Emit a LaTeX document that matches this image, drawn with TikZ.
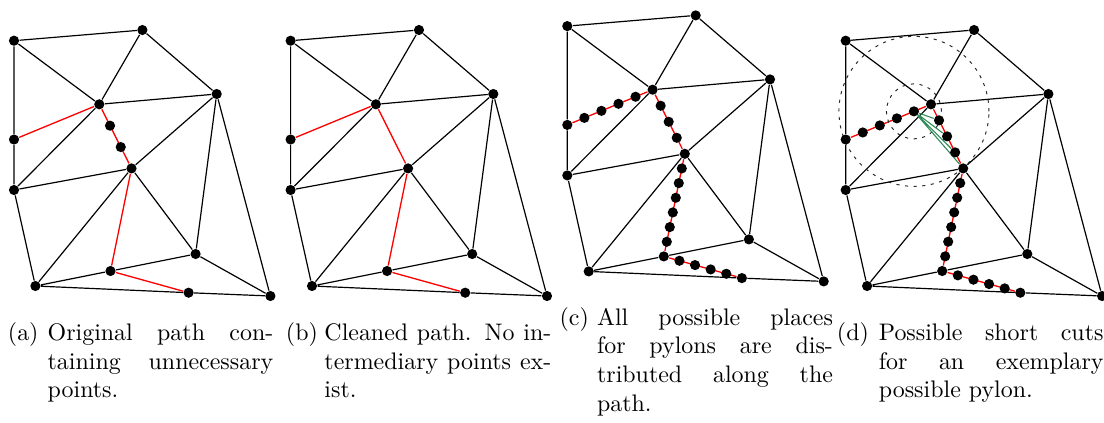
\documentclass[tikz,border=0pt]{standalone}
\usetikzlibrary{calc,backgrounds}
\definecolor{cutgreen}{RGB}{46,139,87}
\begin{document}
\begin{tikzpicture}[x=0.418pt,y=-0.418pt,
  vtx/.style={circle,fill=black,inner sep=0pt,minimum size=4.25pt},
  edge/.style={line width=0.5pt,black},
  redge/.style={line width=0.55pt,red},
  gedge/.style={line width=0.45pt,cutgreen},
  ring/.style={line width=0.4pt,dash pattern=on 1.3pt off 2.3pt,black!85},
  captag/.style={inner sep=0pt,anchor=base west,font=\fontsize{10}{12}\selectfont},
  captext/.style={captag,align=justify}]
\useasboundingbox (0,0) rectangle (1104,422);
\foreach \p/\dx/\dy in {a/0/0,b/276.6/0,c/553.3/-14.6,d/831.7/0}{
  \begin{scope}[shift={(\dx,\dy)}]
    \node[vtx] (\p A) at (14,40.7) {};
    \node[vtx] (\p B) at (142.4,30) {};
    \node[vtx] (\p C) at (216.7,94) {};
    \node[vtx] (\p D) at (99.3,104.3) {};
    \node[vtx] (\p E) at (14,139.5) {};
    \node[vtx] (\p F) at (131.5,168.4) {};
    \node[vtx] (\p G) at (14,190) {};
    \node[vtx] (\p H) at (195.6,254) {};
    \node[vtx] (\p I) at (110.5,271) {};
    \node[vtx] (\p J) at (35.4,286) {};
    \node[vtx] (\p K) at (188.6,292.7) {};
    \node[vtx] (\p L) at (270.4,296) {};
  \end{scope}
  \begin{scope}[on background layer]
    \draw[edge] (\p A)--(\p B) (\p A)--(\p D) (\p A)--(\p E) (\p B)--(\p D)
      (\p B)--(\p C) (\p D)--(\p C) (\p D)--(\p G) (\p C)--(\p F)
      (\p C)--(\p H) (\p C)--(\p L) (\p E)--(\p G) (\p G)--(\p F)
      (\p G)--(\p J) (\p F)--(\p J) (\p F)--(\p H) (\p H)--(\p I)
      (\p H)--(\p L) (\p I)--(\p J) (\p J)--(\p K) (\p K)--(\p L);
    \draw[redge] (\p D)--(\p E) (\p D)--(\p F) (\p F)--(\p I) (\p I)--(\p K);
  \end{scope}
}
% (a) unnecessary intermediate points
\node[vtx] (aq1) at ($(aD)!1/3!(aF)$) {};
\node[vtx] (aq2) at ($(aD)!2/3!(aF)$) {};
% (c), (d) possible pylon places
\foreach \p in {c,d}{
  \foreach \i in {1,...,4} \node[vtx] (\p ed\i) at ($(\p E)!\i/5!(\p D)$) {};
  \foreach \i in {1,...,3} \node[vtx] (\p df\i) at ($(\p D)!\i/4!(\p F)$) {};
  \foreach \i in {1,...,6} \node[vtx] (\p fi\i) at ($(\p F)!\i/7!(\p I)$) {};
  \foreach \i in {1,...,4} \node[vtx] (\p ik\i) at ($(\p I)!\i/5!(\p K)$) {};
}
% (d) short cuts
\begin{scope}[on background layer]
  \draw[ring] (ded4) circle[radius=31.35pt];
  \draw[ring] (ded4) circle[radius=11.5pt];
  \draw[gedge] (ded4)--(ddf1) (ded4)--(ddf2) (ded4)--(ddf3) (ded4)--(dF);
\end{scope}
% captions
\node[captag] (la) at (7.5,340.3) {(a)};
\node[captext,text width=94.3pt] (ta) at (47.2,340.3)
  {\hyphenpenalty=10000 Original path con-\linebreak taining unnecessary\linebreak points.};
\node[captag] (lb) at (285.5,340.3) {(b)};
\node[captext,text width=94.8pt] (tb) at (324,340.3)
  {\hyphenpenalty=10000 Cleaned path. No in-\linebreak termediary points ex-\linebreak ist.};
\node[captag] (lc) at (559.2,325) {(c)};
\node[captext,text width=98.6pt] (tc) at (596.6,325)
  {\hyphenpenalty=10000 All possible places\linebreak for pylons are dis-\linebreak tributed along the\linebreak path.};
\node[captag] (ld) at (836.5,340.3) {(d)};
\node[captext,text width=93.9pt] (td) at (878.4,340.3)
  {\hyphenpenalty=10000 Possible short cuts\linebreak for an exemplary\linebreak possible pylon.};
\end{tikzpicture}
\end{document}
